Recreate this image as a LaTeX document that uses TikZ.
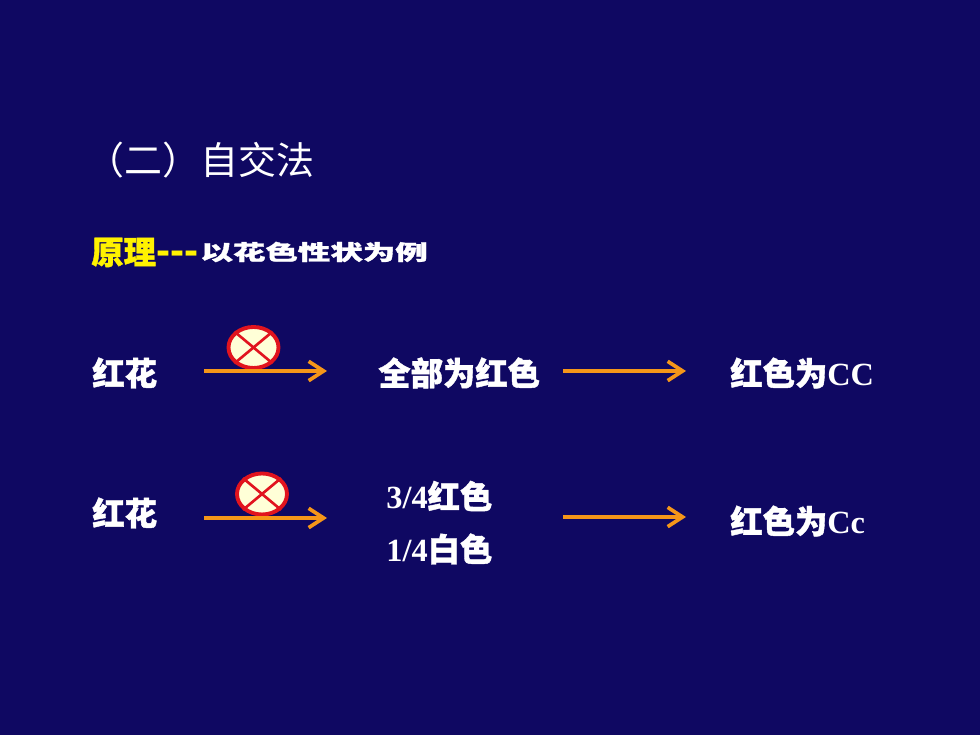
\documentclass[tikz,border=0pt]{standalone}
\usepackage{fontspec}
\setmainfont{Liberation Serif}
\newfontfamily\dashfont{Liberation Sans}
\newfontfamily\cjk[BoldFeatures={FakeBold=1.2}]{Noto Sans CJK SC}
\usetikzlibrary{arrows.meta,shapes.geometric}
\definecolor{slidebg}{RGB}{15,8,98}
\definecolor{arrowor}{RGB}{245,150,25}
\definecolor{selfred}{RGB}{225,20,30}
\definecolor{selffill}{RGB}{255,255,215}
\begin{document}
\begin{tikzpicture}[lab/.style={anchor=west,inner sep=0pt,text=white,font=\fontsize{18.4}{20}\selectfont\bfseries\cjk},
    arr/.style={draw=arrowor,line width=2.1pt,-{Straight Barb[length=8.5pt,width=11pt,line width=2.1pt]}},
    selfc/.style={ellipse,draw=selfred,fill=selffill,line width=2.2pt,minimum width=1.0cm,minimum height=0.82cm,inner sep=0pt}]
                      \fill[slidebg] (0,0) rectangle (19.6,14.7);

                      \node[lab,font=\fontsize{21.6}{24}\selectfont\cjk] (title) at (1.72,11.5) {（二）自交法};
                      \node[lab,text=yellow] (yl) at (1.82,9.65) {原理{\fontsize{24}{24}\selectfont\dashfont\bfseries {-}{-}{-}}};
                      \node[lab,xscale=1.32,yscale=0.86,font=\fontsize{14}{16}\selectfont\bfseries\cjk,anchor=west] (ex) at (4.0,9.66) {以花色性状为例};

                      \node[lab] (a1) at (1.84,7.24) {红花};
                      \node[lab] (a2) at (7.56,7.24) {全部为红色};
                      \node[lab] (a3) at (14.6,7.24) {红色为\rmfamily\bfseries CC};

                      \node[lab] (b1) at (1.84,4.44) {红花};
                      \node[lab] (b2) at (7.72,4.78) {\rmfamily\bfseries 3/4\cjk\bfseries 红色};
                      \node[lab] (b3) at (7.72,3.72) {\rmfamily\bfseries 1/4\cjk\bfseries 白色};
                      \node[lab] (b4) at (14.6,4.28) {红色为\rmfamily\bfseries Cc};

                      % arrow ends
                      \coordinate (p1) at (4.08,7.28);
                      \coordinate (q1) at (6.54,7.28);
                      \coordinate (p2) at (11.26,7.28);
                      \coordinate (q2) at (13.72,7.28);
                      \coordinate (p3) at (4.08,4.34);
                      \coordinate (q3) at (6.54,4.34);
                      \coordinate (p4) at (11.26,4.36);
                      \coordinate (q4) at (13.72,4.36);

                      \node[selfc] (s1) at (5.07,7.75) {};
                      \node[selfc] (s2) at (5.24,4.82) {};
                      \foreach \s in {s1,s2}{
                        \draw[selfred,line width=1.5pt] (\s.north west) -- (\s.south east);
                        \draw[selfred,line width=1.5pt] (\s.north east) -- (\s.south west);
                      }

                      \draw[arr] (p1) -- (q1);
                      \draw[arr] (p2) -- (q2);
                      \draw[arr] (p3) -- (q3);
                      \draw[arr] (p4) -- (q4);
                    \end{tikzpicture}
\end{document}
